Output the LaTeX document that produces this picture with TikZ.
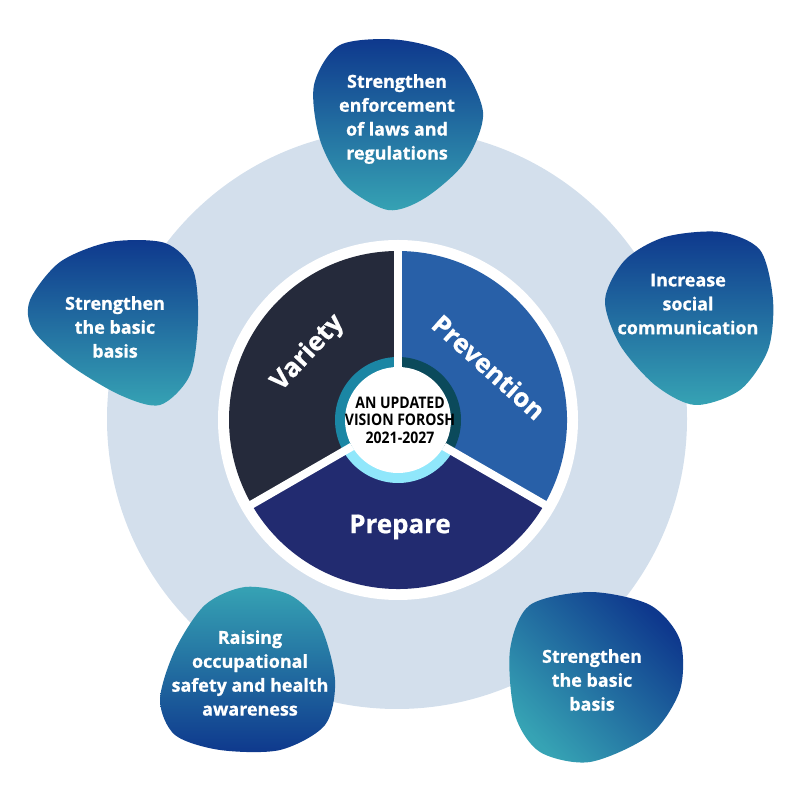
\documentclass[tikz,border=0pt]{standalone}
\usepackage{fontspec}
\setmainfont{Open Sans}[BoldFeatures={FakeBold=0.8}]
\newfontfamily\hubfont{Open Sans}[FakeStretch=0.88]
\definecolor{ringbg}{HTML}{D3DFEC}
\definecolor{blobdark}{HTML}{0E388D}
\definecolor{blobteal}{HTML}{36A3B4}
\definecolor{varietycol}{HTML}{252A3B}
\definecolor{preventcol}{HTML}{2860A8}
\definecolor{preparecol}{HTML}{222B70}
\definecolor{hubteal}{HTML}{1B86A4}
\definecolor{hubdark}{HTML}{0B4A5B}
\definecolor{hubcyan}{HTML}{90E7FB}

\begin{document}
\begin{tikzpicture}[x=1bp,y=1bp,
    blobtext/.style={text=white,align=center,font=\bfseries\fontsize{18}{24}\selectfont},
    sectortext/.style={text=white,font=\bfseries\fontsize{26}{30}\selectfont},
    hubtext/.style={text=black,align=center,font=\hubfont\bfseries\fontsize{16}{17.5}\selectfont},
    gap/.style={white,line width=8bp}]
    \useasboundingbox (0,0) rectangle (800,800);
    \coordinate (c) at (398,380);
    % background disc
    \fill[ringbg] (397,381) circle[radius=290];
    \fill[white] (c) circle[radius=180];
    % three sectors
    \fill[varietycol] (c) -- ++(90:169) arc[start angle=90,end angle=210,radius=169] -- cycle;
    \fill[preventcol] (c) -- ++(-30:169) arc[start angle=-30,end angle=90,radius=169] -- cycle;
    \fill[preparecol] (c) -- ++(210:169) arc[start angle=210,end angle=330,radius=169] -- cycle;
    % hub ring
    \fill[hubteal] (c) -- ++(90:63) arc[start angle=90,end angle=210,radius=63] -- cycle;
    \fill[hubdark] (c) -- ++(-30:63) arc[start angle=-30,end angle=90,radius=63] -- cycle;
    \fill[hubcyan] (c) -- ++(210:63) arc[start angle=210,end angle=330,radius=63] -- cycle;
    \fill[white] (c) circle[radius=53];
    % white gaps between sectors
    \draw[gap] (c) ++(90:53) -- ++(90:122);
    \draw[gap] (c) ++(-30:53) -- ++(-30:122);
    \draw[gap] (c) ++(210:53) -- ++(210:122);
    % sector labels
    \node[sectortext,rotate=47] (variety) at (308,447) {Variety};
    \node[sectortext,rotate=-42] (prevention) at (489,433) {Prevention};
    \node[sectortext] (prepare) at (400,273) {Prepare};
    \node[hubtext] (hub) at (400,380) {AN UPDATED\\VISION FOROSH\\2021-2027};
    % blobs
    \shade[top color=blobdark,bottom color=blobteal] plot[smooth cycle] coordinates
      {(340,755) (400,760) (455,742) (483,688) (465,638) (425,602) (388,590) (345,615) (320,660) (314,715)};
    \shade[top color=blobdark,bottom color=blobteal] plot[smooth cycle] coordinates
      {(30,500) (60,538) (110,558) (165,557) (193,530) (198,480) (190,425) (160,395) (120,405) (70,435) (33,470)};
    \shade[top color=blobdark,bottom color=blobteal] plot[smooth cycle] coordinates
      {(605,500) (625,540) (665,563) (720,568) (760,550) (773,500) (768,450) (740,410) (695,395) (655,415) (620,455)};
    \shade[top color=blobteal,bottom color=blobdark] plot[smooth cycle] coordinates
      {(245,213) (290,205) (320,175) (335,120) (325,75) (280,50) (220,50) (175,65) (160,100) (175,150) (205,195)};
    \shade[top color=blobdark,bottom color=blobteal,shading angle=-45] plot[smooth cycle] coordinates
      {(530,195) (590,208) (650,195) (680,160) (680,110) (650,65) (590,38) (540,48) (515,85) (510,150)};
    % blob labels
    \node[blobtext] (laws) at (397,681) {Strengthen\\enforcement\\of laws and\\regulations};
    \node[blobtext] (basisleft) at (115,473) {Strengthen\\the basic\\basis};
    \node[blobtext] (social) at (688,496) {Increase\\social\\communication};
    \node[blobtext] (safety) at (250,127) {Raising\\occupational\\safety and health\\awareness};
    \node[blobtext] (basisright) at (592,120) {Strengthen\\the basic\\basis};
\end{tikzpicture}
\end{document}
